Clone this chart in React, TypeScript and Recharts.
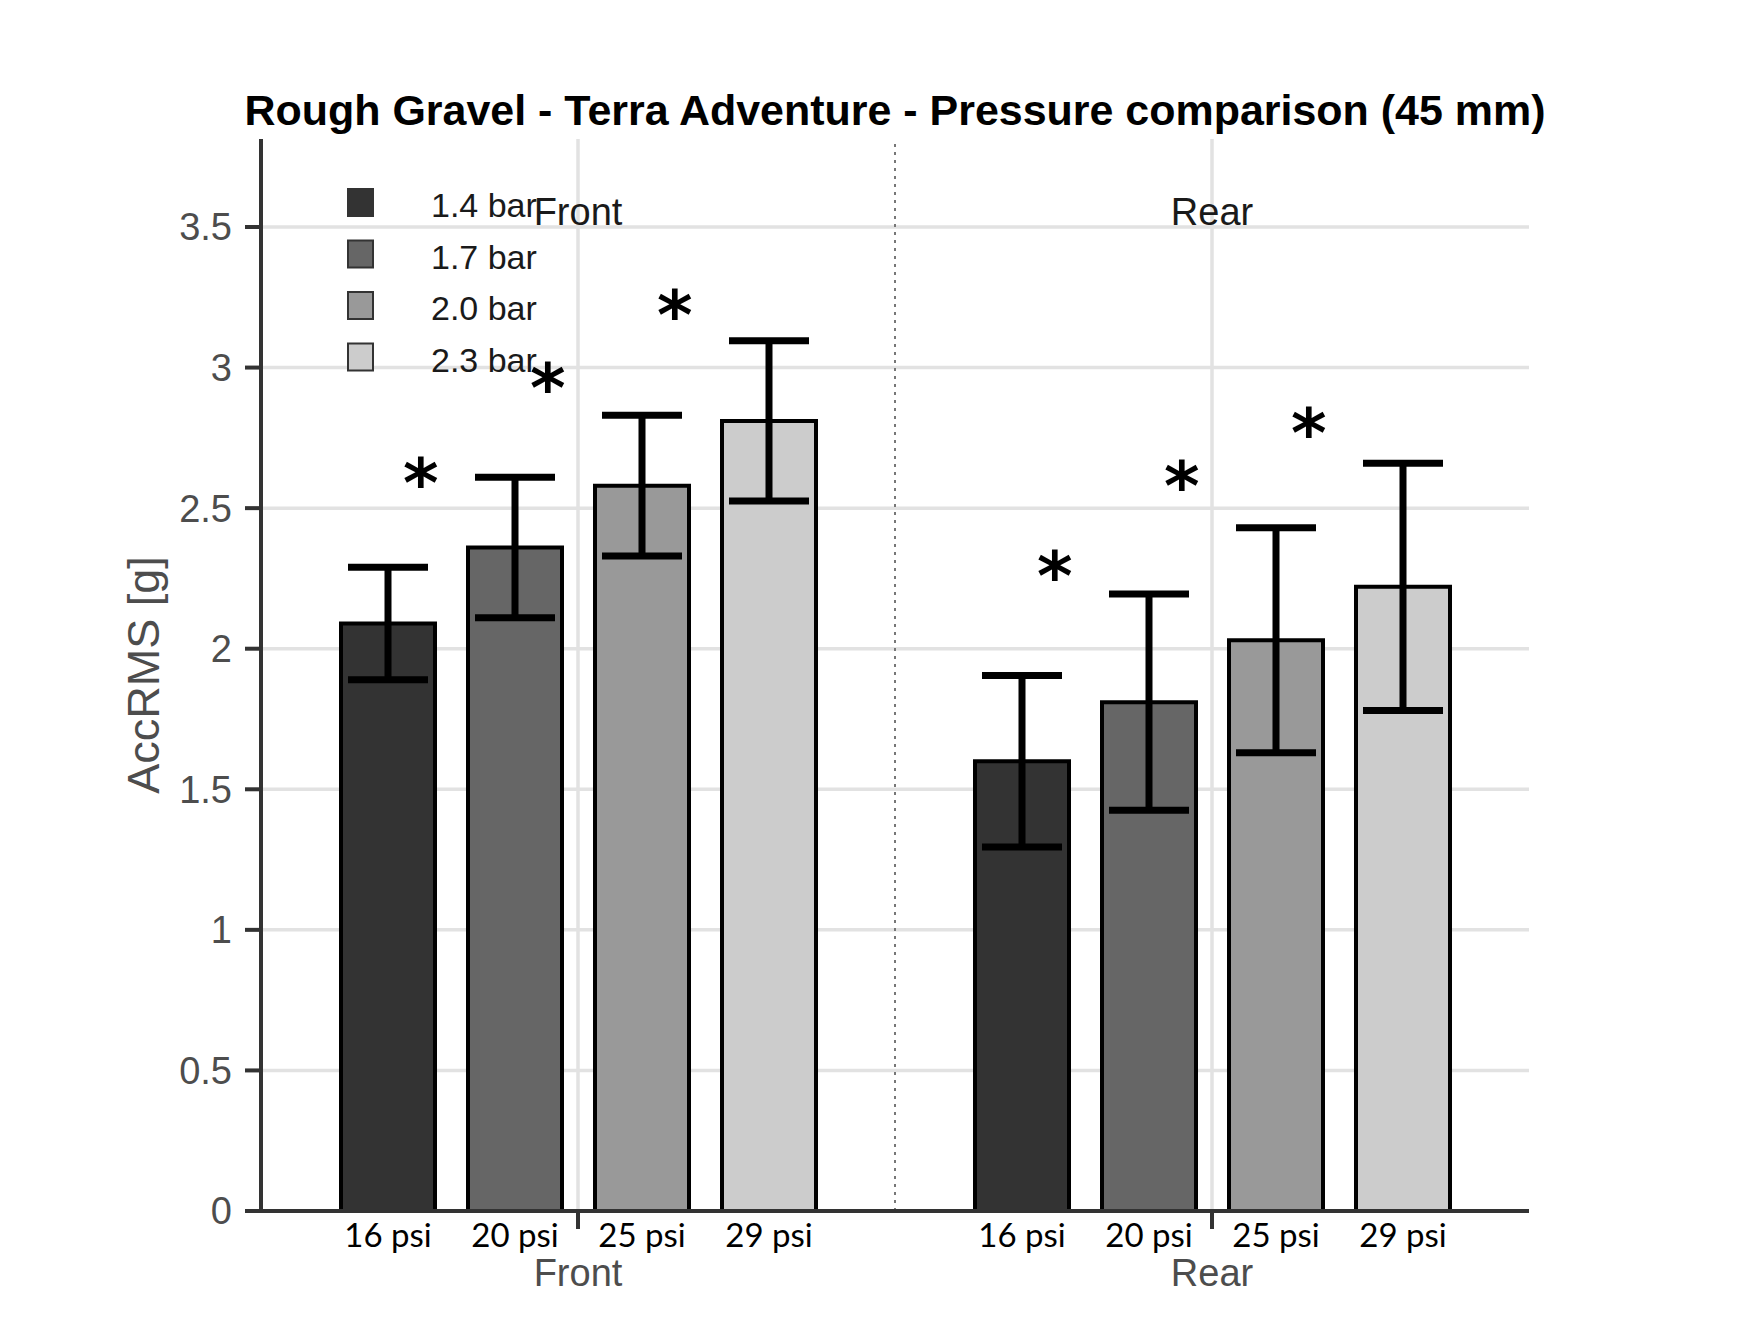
import React from "react";
import {
  Bar,
  BarChart,
  CartesianGrid,
  ErrorBar,
  LabelList,
  Legend,
  ReferenceLine,
  XAxis,
  YAxis,
} from "recharts";

// values
const panels = ["Front", "Rear"];
const seriesNames = ["1.4 bar", "1.7 bar", "2.0 bar", "2.3 bar"];
const psiLabels = ["16 psi", "20 psi", "25 psi", "29 psi"];

const mean14 = [2.09, 1.6];
const mean17 = [2.36, 1.81];
const mean20 = [2.58, 2.03];
const mean23 = [2.81, 2.22];

const sd14 = [0.2, 0.305];
const sd17 = [0.25, 0.385];
const sd20 = [0.25, 0.4];
const sd23 = [0.285, 0.44];

// height of the significance asterisks (in g)
const star14 = [2.62, 2.29];
const star17 = [2.96, 2.61];
const star20 = [3.22, 2.8];
const star23 = [null, null];

const yTicks = [0, 0.5, 1, 1.5, 2, 2.5, 3, 3.5];

const FONT = "'Liberation Sans', Arial, sans-serif";
const fills = ["#333333", "#666666", "#999999", "#cccccc"];
const keys = ["p14", "p17", "p20", "p23"];
const means = [mean14, mean17, mean20, mean23];
const sds = [sd14, sd17, sd20, sd23];
const stars = [star14, star17, star20, star23];

const rows = panels.map((panel, i) => {
  const row: Record<string, string | number | null> = { panel };
  keys.forEach((k, s) => {
    row[k] = means[s][i];
    row[`${k}Err`] = sds[s][i];
    row[`${k}Star`] = stars[s][i];
  });
  return row;
});

function boxOf(props: any) {
  const vb = props.viewBox ?? props;
  return {
    x: Number(vb.x),
    y: Number(vb.y),
    width: Number(vb.width),
    height: Number(vb.height),
  };
}

function PsiLabel(props: any) {
  const { x, y, width, height } = boxOf(props);
  return (
    <text
      x={x + width / 2}
      y={y + height + 36}
      textAnchor="middle"
      fontFamily="Lato, sans-serif"
      fontSize={33}
      fill="#000"
    >
      {props.text}
    </text>
  );
}

function StarLabel(props: any) {
  const { value, index, barKey } = props;
  if (value == null) return null;
  const { x, y, width, height } = boxOf(props);
  const barValue = Number(rows[index][barKey]);
  const perUnit = height / barValue;
  const cy = y + height - Number(value) * perUnit;
  return (
    <text
      x={x + width * 0.85}
      y={cy + 33}
      textAnchor="middle"
      fontFamily="'DejaVu Sans', sans-serif"
      fontWeight="bold"
      fontSize={68}
      fill="#000"
    >
      *
    </text>
  );
}

// facet strip title drawn at the top of each panel
function stripLabel(text: string) {
  return (props: any) => {
    const vb = props.viewBox ?? props;
    return (
      <text
        x={Number(vb.x)}
        y={Number(vb.y) + 86}
        textAnchor="middle"
        fontFamily={FONT}
        fontSize={38}
        fill="#1a1a1a"
      >
        {text}
      </text>
    );
  };
}

function YLabel(props: any) {
  const vb = props.viewBox;
  const cy = vb.y + vb.height / 2;
  return (
    <text
      x={159}
      y={cy}
      transform={`rotate(-90 159 ${cy})`}
      textAnchor="middle"
      fontFamily={FONT}
      fontSize={45}
      fill="#4d4d4d"
    >
      AccRMS [g]
    </text>
  );
}

function LegendBox(props: any) {
  const payload = props.payload ?? [];
  return (
    <svg width={240} height={215}>
      {payload.map((entry: any, i: number) => (
        <g key={entry.value}>
          <rect
            x={2}
            y={2 + i * 51.5}
            width={25}
            height={27}
            fill={entry.color}
            stroke="#333"
            strokeWidth={2}
          />
          <text
            x={85}
            y={30 + i * 51.5}
            fontFamily={FONT}
            fontSize={34}
            fill="#1a1a1a"
          >
            {entry.value}
          </text>
        </g>
      ))}
    </svg>
  );
}

export default function App() {
  return (
    <div
      style={{
        position: "absolute",
        left: 0,
        top: 0,
        width: 1744,
        height: 1332,
        background: "#fff",
      }}
    >
      <BarChart
        width={1744}
        height={1332}
        data={rows}
        margin={{ top: 139, right: 215, bottom: 0, left: 0 }}
        barSize={94}
        barGap={33}
        style={{ fontFamily: FONT }}
      >
        <CartesianGrid stroke="#e2e2e2" strokeWidth={3.5} syncWithTicks />
        <ReferenceLine
          x="Rear"
          position="start"
          stroke="#777"
          strokeWidth={2}
          strokeDasharray="3 5"
        />
        {panels.map((p) => (
          <ReferenceLine
            key={p}
            x={p}
            stroke="none"
            strokeOpacity={0}
            label={{ content: stripLabel(p) }}
          />
        ))}
        <XAxis
          dataKey="panel"
          height={121}
          interval={0}
          tickSize={18}
          tickMargin={30}
          axisLine={{ stroke: "#333", strokeWidth: 4 }}
          tickLine={{ stroke: "#333", strokeWidth: 4 }}
          tick={{ fill: "#4d4d4d", fontSize: 38, fontFamily: FONT }}
        />
        <YAxis
          domain={[0, 3.813]}
          ticks={yTicks}
          allowDataOverflow
          width={261}
          tickSize={16}
          tickMargin={13}
          axisLine={{ stroke: "#333", strokeWidth: 4 }}
          tickLine={{ stroke: "#333", strokeWidth: 4 }}
          tick={{ fill: "#4d4d4d", fontSize: 38, fontFamily: FONT }}
          label={{ content: YLabel }}
        />
        <Legend
          layout="vertical"
          align="center"
          verticalAlign="middle"
          wrapperStyle={{ left: 346, top: 187, width: 240 }}
          content={LegendBox}
        />
        {keys.map((k, s) => (
          <Bar
            key={k}
            dataKey={k}
            name={seriesNames[s]}
            fill={fills[s]}
            stroke="#000"
            strokeWidth={4}
            isAnimationActive={false}
          >
            <ErrorBar
              dataKey={`${k}Err`}
              width={40}
              strokeWidth={7}
              stroke="#000"
              isAnimationActive={false}
            />
            <LabelList
              dataKey={k}
              content={(p: any) => <PsiLabel {...p} text={psiLabels[s]} />}
            />
            <LabelList
              dataKey={`${k}Star`}
              content={(p: any) => <StarLabel {...p} barKey={k} />}
            />
          </Bar>
        ))}
      </BarChart>
      <svg
        width={1744}
        height={160}
        style={{ position: "absolute", left: 0, top: 0, pointerEvents: "none" }}
      >
        <text
          x={895}
          y={125}
          textAnchor="middle"
          fontFamily={FONT}
          fontWeight="bold"
          fontSize={43}
          textLength={1301}
          lengthAdjust="spacingAndGlyphs"
          fill="#000"
        >
          Rough Gravel - Terra Adventure - Pressure comparison (45 mm)
        </text>
      </svg>
    </div>
  );
}
